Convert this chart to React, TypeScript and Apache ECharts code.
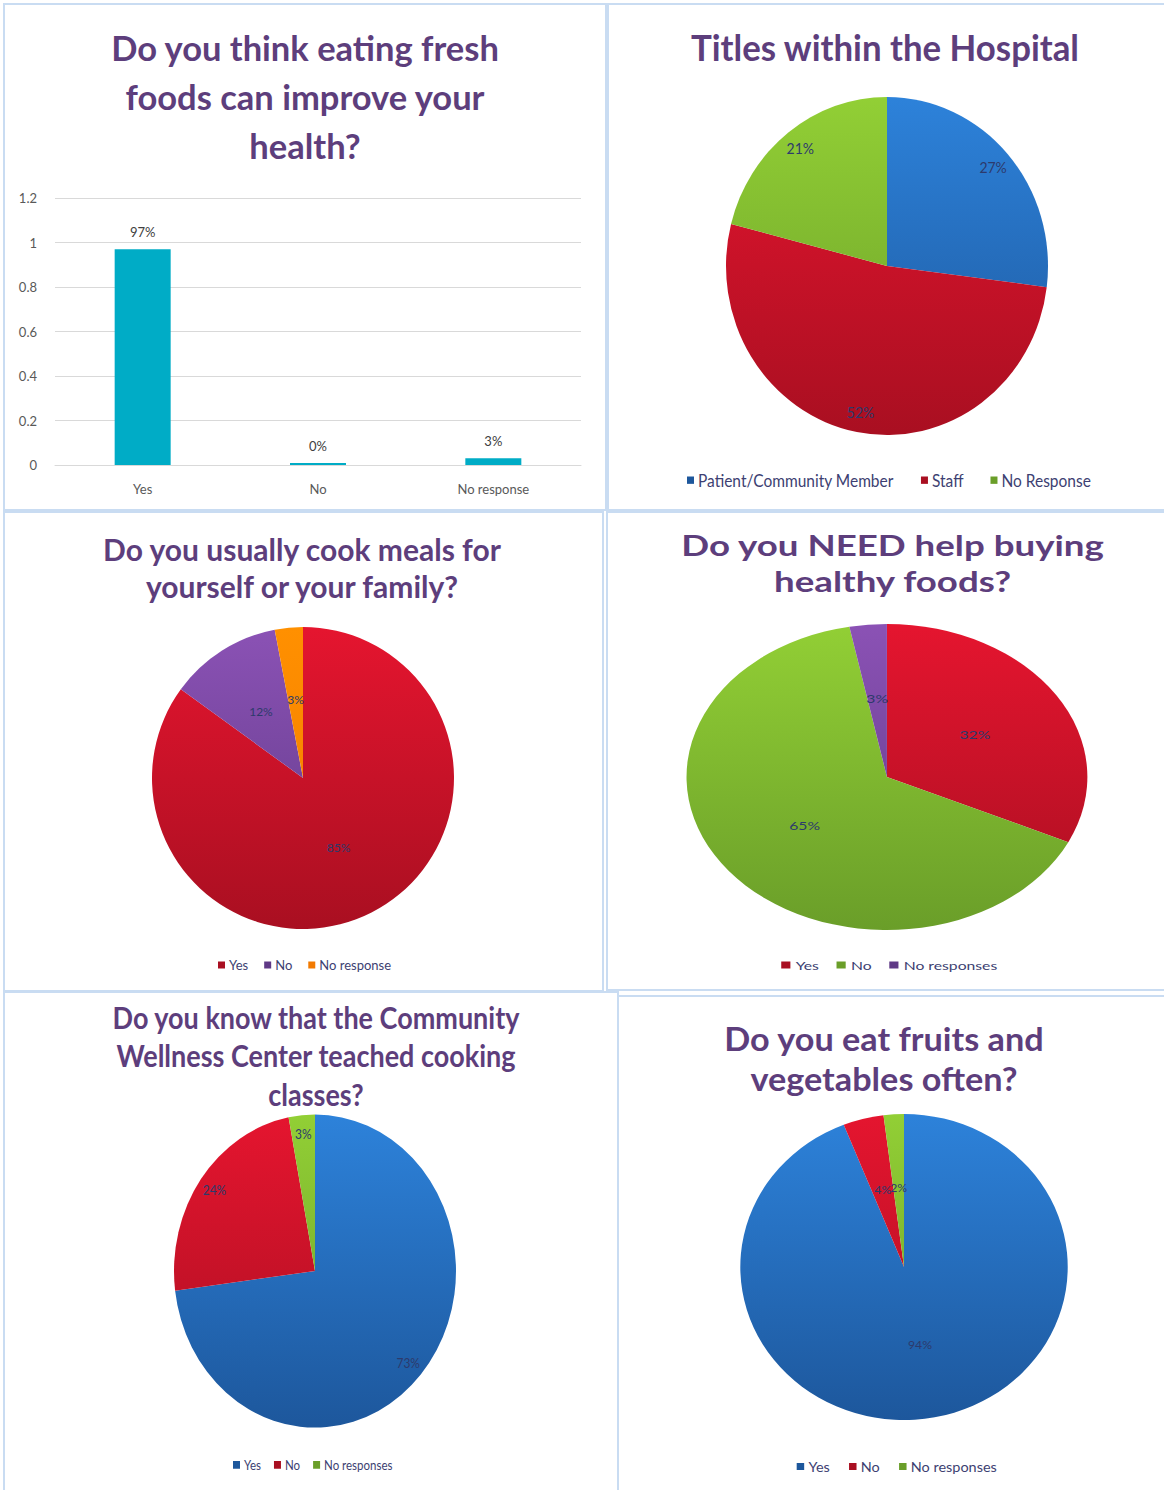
import React, { useEffect, useRef } from "react";
import * as echarts from "echarts";

// ---------- DATA ----------
const q1Title = "Do you think eating fresh\nfoods can improve your\nhealth?";
const q1Categories = ["Yes", "No", "No response"];
const q1Values = [0.97, 0, 0.03];
const q1AxisMin = 0;
const q1AxisMax = 1.2;
const q1AxisStep = 0.2;

const q2Title = "Titles within the Hospital";
const q2Names = ["Patient/Community Member", "Staff", "No Response"];
const q2Values = [27, 52, 21];

const q3Title = "Do you usually cook meals for\nyourself or your family?";
const q3Names = ["Yes", "No", "No response"];
const q3Values = [85, 12, 3];

const q4Title = "Do you NEED help buying\nhealthy foods?";
const q4Names = ["Yes", "No", "No responses"];
const q4Values = [32, 65, 3];

const q5Title = "Do you know that the Community\nWellness Center teached cooking\nclasses?";
const q5Names = ["Yes", "No", "No responses"];
const q5Values = [73, 24, 3];

const q6Title = "Do you eat fruits and\nvegetables often?";
const q6Names = ["Yes", "No", "No responses"];
const q6Values = [94, 4, 2];

// ---------- STYLE ----------
const FONT = "Lato, 'Open Sans', sans-serif";
const TITLE_COLOR = "#5d3e7c";
const LABEL_COLOR = "#2d3a6c";
const LEGEND_COLOR = "#3d3f72";
const BORDER = "#c9dcf2";

const BLUE: [string, string] = ["#2d82da", "#1d579c"];
const RED: [string, string] = ["#e5152f", "#a90f21"];
const GREEN: [string, string] = ["#92cf35", "#6a9e29"];
const PURPLE: [string, string] = ["#8b52b5", "#5f3986"];
const ORANGE: [string, string] = ["#ff9000", "#f27a00"];

function grad(c: [string, string], y1: number, y2: number) {
  return new echarts.graphic.LinearGradient(
    0, y1, 0, y2,
    [
      { offset: 0, color: c[0] },
      { offset: 1, color: c[1] },
    ],
    true
  );
}

function titleOpt(text: string, left: number, top: number, fontSize: number, lineHeight: number) {
  return {
    text,
    left,
    top,
    textAlign: "center",
    textVerticalAlign: "top",
    padding: 0,
    textStyle: {
      fontFamily: FONT,
      fontWeight: "bold",
      fontSize,
      lineHeight,
      color: TITLE_COLOR,
    },
  };
}

function legendOpt(names: string[], colors: [string, string][], left: number, top: number, gap: number, fontSize: number) {
  return {
    left,
    top,
    padding: 0,
    icon: "rect",
    itemWidth: 7,
    itemHeight: 7,
    itemGap: gap,
    selectedMode: false,
    textStyle: { fontFamily: FONT, fontSize, color: LEGEND_COLOR, padding: [0, 0, 0, -1] },
    data: names.map((n, i) => ({ name: n, itemStyle: { color: colors[i][1] } })),
  };
}

function pieSeries(
  names: string[],
  values: number[],
  colors: [string, string][],
  cx: number,
  cy: number,
  r: number,
  labelOuter: boolean,
  labelSize: number
) {
  const data = names.map((n, i) => ({
    name: n,
    value: values[i],
    itemStyle: { color: grad(colors[i], cy - r, cy + r) },
  }));
  const label = {
    show: true,
    position: "inside",
    formatter: (p: any) => p.value + "%",
    color: LABEL_COLOR,
    fontFamily: FONT,
    fontSize: labelSize,
  };
  const common: any = {
    type: "pie",
    center: [cx, cy],
    startAngle: 90,
    clockwise: true,
    silent: true,
    avoidLabelOverlap: false,
    minShowLabelAngle: 0,
    labelLayout: { hideOverlap: false },
    labelLine: { show: false },
    emphasis: { disabled: true },
  };
  const main: any = {
    ...common,
    radius: [0, r],
    itemStyle: { borderWidth: 0 },
    label: labelOuter ? { show: false } : label,
    data,
  };
  if (!labelOuter) return [main];
  const overlay: any = {
    ...common,
    radius: [r * 0.72, r],
    itemStyle: { color: "rgba(0,0,0,0)", borderWidth: 0 },
    label,
    data: names.map((n, i) => ({ name: n, value: values[i] })),
  };
  return [main, overlay];
}

// ---------- OPTIONS (native panel coordinates) ----------
const opt1: any = {
  animation: false,
  title: titleOpt(q1Title, 301, 19, 34.5, 49),
  grid: { left: 51, top: 194, width: 526, height: 267 },
  xAxis: {
    type: "category",
    data: q1Categories,
    axisTick: { show: false },
    axisLine: { lineStyle: { color: "#d9d9d9", width: 1 } },
    axisLabel: { color: "#595959", fontSize: 13, margin: 17, fontFamily: FONT },
  },
  yAxis: {
    type: "value",
    min: q1AxisMin,
    max: q1AxisMax,
    interval: q1AxisStep,
    axisLine: { show: false },
    axisTick: { show: false },
    splitLine: { lineStyle: { color: "#d9d9d9", width: 1 } },
    axisLabel: { color: "#595959", fontSize: 13, margin: 18, fontFamily: FONT },
  },
  series: [
    {
      type: "bar",
      data: q1Values,
      barWidth: 56,
      barMinHeight: 2,
      silent: true,
      itemStyle: { color: "#00acc6" },
      label: {
        show: true,
        position: "top",
        distance: 11,
        formatter: (p: any) => Math.round(p.value * 100) + "%",
        color: "#404040",
        fontSize: 13,
        fontFamily: FONT,
      },
    },
  ],
};

const c2: [string, string][] = [BLUE, RED, GREEN];
const opt2: any = {
  animation: false,
  title: titleOpt(q2Title, 278, 21, 34.8, 40),
  legend: legendOpt(q2Names, c2, 80, 445.5, 27, 15.5),
  series: pieSeries(q2Names, q2Values, c2, 280, 249.5, 161, true, 14),
};

const c3: [string, string][] = [RED, PURPLE, ORANGE];
const opt3: any = {
  animation: false,
  title: titleOpt(q3Title, 298, 18, 30, 37),
  legend: legendOpt(q3Names, c3, 214, 446.5, 16, 13),
  series: pieSeries(q3Names, q3Values, c3, 299, 266, 151, false, 12),
};

const c4: [string, string][] = [RED, GREEN, PURPLE];
const opt4: any = {
  animation: false,
  title: titleOpt(q4Title, 218, 15, 28, 36),
  legend: legendOpt(q4Names, c4, 133, 447, 13.5, 12),
  series: pieSeries(q4Names, q4Values, c4, 213.7, 265, 153, false, 12),
};

const c5: [string, string][] = [BLUE, RED, GREEN];
const opt5: any = {
  animation: false,
  title: titleOpt(q5Title, 312, 5, 27, 35),
  legend: legendOpt(q5Names, c5, 229, 420, 13, 11.5),
  series: pieSeries(q5Names, q5Values, c5, 311, 251.4, 141, true, 12),
};

const c6: [string, string][] = [BLUE, RED, GREEN];
const opt6: any = {
  animation: false,
  title: titleOpt(q6Title, 248.6, 22, 32, 40),
  legend: legendOpt(q6Names, c6, 167, 463.5, 18, 13.5),
  series: pieSeries(q6Names, q6Values, c6, 267.3, 271, 153, false, 11.5),
};

// ---------- PANELS ----------
type Box = { x: number; y: number; w: number; h: number };

function Panel({ box, sx, sy, option }: { box: Box; sx: number; sy: number; option: any }) {
  const ref = useRef<HTMLDivElement>(null);
  useEffect(() => {
    if (!ref.current) return;
    const chart = echarts.init(ref.current, null, { renderer: "svg" });
    chart.setOption(option);
    return () => chart.dispose();
  }, [option]);
  return (
    <div
      style={{
        position: "absolute",
        left: box.x,
        top: box.y,
        width: box.w,
        height: box.h,
        overflow: "hidden",
      }}
    >
      <div
        ref={ref}
        style={{
          position: "absolute",
          left: 0,
          top: 0,
          width: box.w / sx,
          height: box.h / sy,
          transform: `scale(${sx}, ${sy})`,
          transformOrigin: "0 0",
        }}
      />
    </div>
  );
}

function Frame({ x, y, w, h }: Box) {
  return (
    <div
      style={{
        position: "absolute",
        left: x,
        top: y,
        width: w,
        height: h,
        boxSizing: "border-box",
        border: `2px solid ${BORDER}`,
        pointerEvents: "none",
      }}
    />
  );
}

export default function App() {
  return (
    <div
      style={{
        position: "absolute",
        left: 0,
        top: 0,
        width: 1164,
        height: 1490,
        background: "#ffffff",
        overflow: "hidden",
      }}
    >
      <Frame x={3} y={3} w={604} h={508} />
      <Frame x={607} y={3} w={560} h={508} />
      <Frame x={3} y={511} w={601} h={481} />
      <Frame x={606} y={511} w={560} h={480} />
      <Frame x={3} y={991} w={616} h={502} />
      <Frame x={617} y={995} w={550} h={498} />
      <Panel box={{ x: 4, y: 4, w: 602, h: 506 }} sx={1} sy={1} option={opt1} />
      <Panel box={{ x: 607, y: 4, w: 557, h: 506 }} sx={1} sy={1.05} option={opt2} />
      <Panel box={{ x: 4, y: 512, w: 599, h: 479 }} sx={1} sy={1} option={opt3} />
      <Panel box={{ x: 607, y: 512, w: 557, h: 478 }} sx={1.31} sy={1} option={opt4} />
      <Panel box={{ x: 4, y: 992, w: 614, h: 498 }} sx={1} sy={1.11} option={opt5} />
      <Panel box={{ x: 618, y: 996, w: 546, h: 494 }} sx={1.07} sy={1} option={opt6} />
    </div>
  );
}
